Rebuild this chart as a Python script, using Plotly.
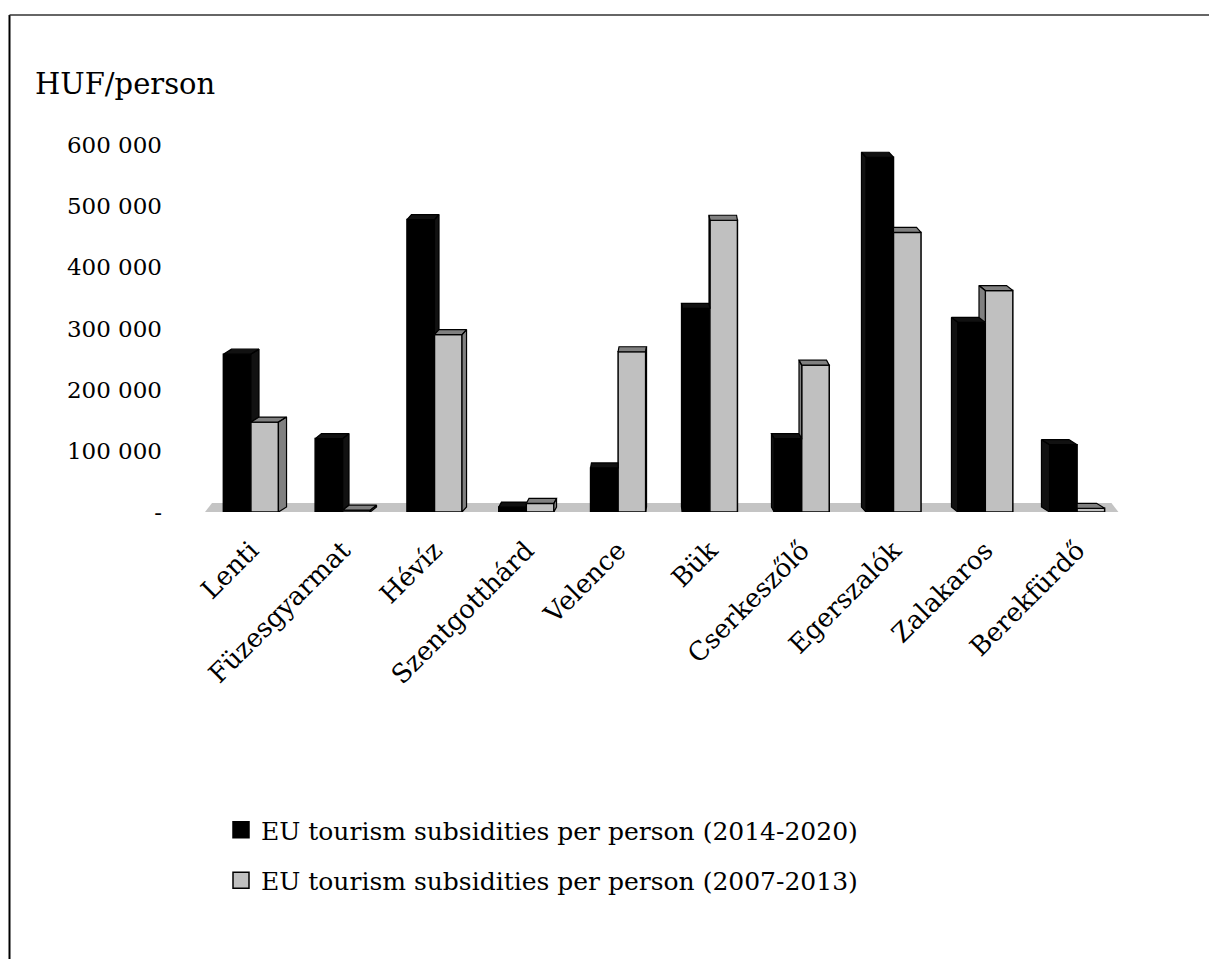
import plotly.graph_objects as go

# ---- data -------------------------------------------------------------
towns = ["Lenti", "Füzesgyarmat", "Hévíz", "Szentgotthárd", "Velence",
         "Bük", "Cserkeszőlő", "Egerszalók", "Zalakaros", "Berekfürdő"]
subsidy_2014_2020 = [258000, 120000, 478000, 8000, 72000,
                     333000, 120000, 580000, 310000, 110000]
subsidy_2007_2013 = [147000, 3000, 290000, 14000, 262000,
                     477000, 240000, 457000, 362000, 6000]
series_names = ["EU tourism subsidities per person (2014-2020)",
                "EU tourism subsidities per person (2007-2013)"]
y_tick_values = [0, 100000, 200000, 300000, 400000, 500000, 600000]
y_tick_labels = ["-", "100 000", "200 000", "300 000", "400 000", "500 000", "600 000"]

# ---- geometry / style ---------------------------------------------------
W, H = 1209, 959
L, R, T, B = 205, 1123, 145, 512          # plot area in pixels
PW, PH = R - L, B - T
Y_MAX = 600000

FONT = "DejaVu Serif"
BLACK, BLACK_FACE = "#000000", "#111111"
GREY, GREY_FACE = "#c0c0c0", "#808080"
FLOOR = "#c4c4c4"

BAR_W = 0.3                               # width of one bar (category units)
CENTER = (len(towns) - 1) / 2
DX_PER_CAT = 1.8 / (PW / len(towns))      # depth shift toward centre, per category
DV = 5 * Y_MAX / PH                       # depth rise of top faces (value units)


def px_x(px):
    return (px - L) / PW


def px_y(py):
    return (B - py) / PH


fig = go.Figure()

# front faces of the bars
x_idx = list(range(len(towns)))
fig.add_trace(go.Bar(x=x_idx, y=subsidy_2014_2020, width=BAR_W, offset=-BAR_W,
                     marker=dict(color=BLACK, line=dict(color=BLACK, width=1.5)),
                     showlegend=False, hoverinfo="skip"))
fig.add_trace(go.Bar(x=x_idx, y=subsidy_2007_2013, width=BAR_W, offset=0,
                     marker=dict(color=GREY, line=dict(color=BLACK, width=1.5)),
                     showlegend=False, hoverinfo="skip"))


def add_polys(polys, fill):
    xs, ys = [], []
    for poly in polys:
        for (a, b) in poly:
            xs.append(a)
            ys.append(b)
        xs.append(poly[0][0])
        ys.append(poly[0][1])
        xs.append(None)
        ys.append(None)
    fig.add_trace(go.Scatter(x=xs, y=ys, mode="lines", fill="toself",
                             fillcolor=fill, line=dict(color=BLACK, width=1.2),
                             showlegend=False, hoverinfo="skip"))


# top and side faces giving the bars their depth
black_faces, grey_faces = [], []
for i, (vb, vg) in enumerate(zip(subsidy_2014_2020, subsidy_2007_2013)):
    dx = DX_PER_CAT * (CENTER - i)
    x0, x1, x2 = i - BAR_W, i, i + BAR_W
    # black bar
    if dx > 0 and vg > vb:
        black_faces.append([(x0, vb), (x0 + dx, vb + DV), (x1, vb + DV), (x1, vb)])
    else:
        black_faces.append([(x0, vb), (x0 + dx, vb + DV), (x1 + dx, vb + DV), (x1, vb)])
    if dx > 0 and vb > vg:
        black_faces.append([(x1, vg), (x1, vb), (x1 + dx, vb + DV), (x1 + dx, vg + DV)])
    elif dx < 0:
        black_faces.append([(x0, 0), (x0, vb), (x0 + dx, vb + DV), (x0 + dx, DV)])
    # grey bar
    if dx < 0 and vb > vg:
        grey_faces.append([(x1, vg), (x1, vg + DV), (x2 + dx, vg + DV), (x2, vg)])
    else:
        grey_faces.append([(x1, vg), (x1 + dx, vg + DV), (x2 + dx, vg + DV), (x2, vg)])
    if dx > 0:
        grey_faces.append([(x2, 0), (x2, vg), (x2 + dx, vg + DV), (x2 + dx, DV)])
    elif vg > vb:
        grey_faces.append([(x1, vb), (x1, vg), (x1 + dx, vg + DV), (x1 + dx, vb + DV)])

add_polys(black_faces, BLACK_FACE)
add_polys(grey_faces, GREY_FACE)

# legend entries
for name, col in zip(series_names, [BLACK, GREY]):
    fig.add_trace(go.Scatter(x=[None], y=[None], mode="markers", name=name,
                             legendgroup=name,
                             marker=dict(symbol="square", size=16, color=col,
                                         line=dict(color=BLACK, width=1.5))))

# floor under the bars
floor_shift = 7 / (PW / len(towns))
floor_rise = 9 * Y_MAX / PH
x_lo, x_hi = -0.5, len(towns) - 0.55
fig.add_shape(type="path", xref="x", yref="y", layer="below",
              path=(f"M{x_lo},0 L{x_hi},0 L{x_hi - floor_shift},{floor_rise} "
                    f"L{x_lo + floor_shift},{floor_rise} Z"),
              fillcolor=FLOOR, line=dict(width=0))

# frame lines
fig.add_shape(type="line", xref="paper", yref="paper",
              x0=px_x(9.5), x1=px_x(9.5), y0=px_y(15), y1=px_y(W),
              line=dict(color="#000000", width=2))
fig.add_shape(type="line", xref="paper", yref="paper",
              x0=px_x(9.5), x1=px_x(W + 5), y0=px_y(15), y1=px_y(15),
              line=dict(color="#333333", width=1.5))

fig.add_annotation(text="HUF/person", xref="paper", yref="paper",
                   x=px_x(33), y=px_y(84), xanchor="left", yanchor="middle",
                   showarrow=False, font=dict(family=FONT, size=29, color="#000000"))

fig.update_layout(
    width=W, height=H,
    margin=dict(l=L, r=W - R, t=T, b=H - B, pad=0),
    paper_bgcolor="white", plot_bgcolor="white",
    barmode="overlay",
    font=dict(family=FONT, color="#000000"),
    showlegend=True,
    legend=dict(x=px_x(221), y=px_y(807), xanchor="left", yanchor="top",
                font=dict(family=FONT, size=25, color="#000000"),
                tracegroupgap=15, bgcolor="rgba(0,0,0,0)"),
)
fig.update_xaxes(range=[-0.5, len(towns) - 0.5], tickmode="array",
                 tickvals=x_idx, ticktext=towns, tickangle=-45,
                 tickfont=dict(family=FONT, size=26, color="#000000"),
                 showgrid=False, zeroline=False, showline=False, ticks="",
                 ticklabelstandoff=17)
fig.update_yaxes(range=[0, Y_MAX], tickmode="array", tickvals=y_tick_values,
                 ticktext=y_tick_labels,
                 tickfont=dict(family=FONT, size=23, color="#000000"),
                 showgrid=False, zeroline=False, showline=False, ticks="",
                 ticklabelstandoff=42)

fig.write_html("out.html")
